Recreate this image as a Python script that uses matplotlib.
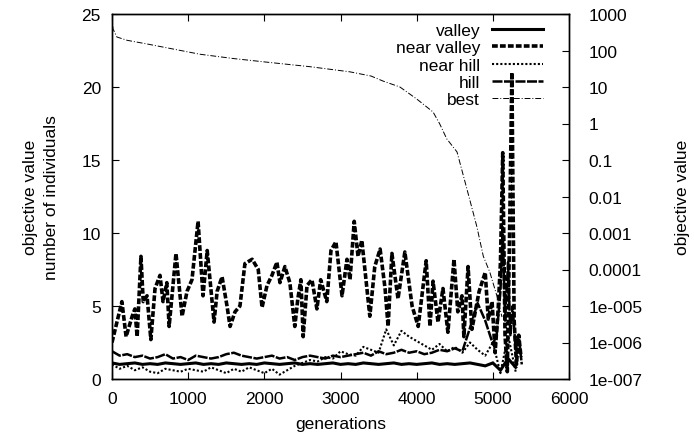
import matplotlib
matplotlib.use("Agg")
import matplotlib.pyplot as plt
from matplotlib.ticker import FixedLocator, FixedFormatter, NullLocator

plt.rcParams['font.family'] = ['Liberation Sans', 'DejaVu Sans']

# ---------------- data ----------------
nv_gen = [0, 65, 130, 185, 265, 300, 330, 380, 410, 460, 510, 565, 630, 670, 720, 750,
          840, 920, 985, 1050, 1130, 1195, 1250, 1340, 1380, 1445, 1510, 1550, 1615, 1680,
          1745, 1840, 1920, 1970, 2035, 2100, 2165, 2205, 2270, 2335, 2400, 2440, 2480,
          2510, 2560, 2625, 2690, 2740, 2820, 2875, 2940, 3020, 3085, 3125, 3180, 3230,
          3280, 3385, 3450, 3520, 3585, 3625, 3675, 3755, 3845, 3940, 4020, 4125, 4175,
          4215, 4280, 4345, 4410, 4490, 4540, 4595, 4620, 4675, 4725, 4820, 4900, 4940,
          4990, 5030, 5070, 5100, 5130, 5160, 5190, 5220, 5250, 5280, 5310, 5340, 5370]
near_valley = [2.5, 3.9, 5.3, 2.9, 4.3, 4.8, 2.9, 8.4, 5.3, 5.7, 2.7, 6.2, 7.1, 5.3, 6.6, 3.6,
               8.6, 4.3, 6.0, 6.8, 10.8, 5.7, 8.8, 3.9, 6.0, 7.0, 5.0, 3.6, 4.6, 5.0,
               7.9, 8.2, 7.5, 4.9, 6.4, 7.1, 8.0, 6.6, 7.7, 6.6, 3.6, 5.5, 6.8,
               2.9, 6.4, 6.8, 4.8, 6.8, 5.3, 8.8, 9.4, 5.7, 8.2, 6.8, 10.8, 8.4,
               9.5, 4.3, 7.7, 8.9, 6.2, 3.6, 8.6, 5.5, 8.7, 5.0, 3.6, 8.1, 3.6,
               6.7, 3.9, 6.2, 3.2, 8.2, 4.6, 5.7, 2.9, 7.7, 3.4, 6.0, 7.3, 4.1,
               5.3, 1.8, 4.8, 8.0, 15.5, 3.0, 0.5, 10.0, 21.0, 4.0, 1.0, 3.0, 1.5]

grid_gen = list(range(0, 5400, 100))
valley = [1.1, 1.0, 1.05, 1.1, 1.0, 1.05, 1.0, 1.1, 1.05, 1.0, 1.05, 1.1, 1.0, 1.05,
          1.0, 1.1, 1.05, 1.0, 1.05, 1.0, 1.1, 1.05, 1.0, 1.05, 1.1, 1.0, 1.05, 1.0,
          1.05, 1.1, 1.0, 1.05, 1.0, 1.1, 1.05, 1.0, 1.05, 1.1, 1.0, 1.05, 1.0, 1.05,
          1.1, 1.0, 1.05, 1.0, 1.05, 1.1, 1.0, 0.9, 1.1, 0.6, 1.4, 0.8]
near_hill = [1.0, 0.7, 0.9, 0.6, 0.8, 0.5, 0.4, 0.7, 0.6, 0.5, 0.7, 0.6, 0.5, 0.8,
             0.6, 0.4, 0.7, 0.5, 0.8, 0.6, 0.4, 0.7, 0.3, 0.6, 0.9, 1.1, 1.3, 1.2,
             1.5, 1.4, 1.9, 1.7, 1.6, 2.2, 2.0, 1.8, 3.4, 2.3, 3.3, 2.9, 2.6, 2.3,
             2.0, 2.4, 1.9, 2.2, 1.8, 2.5, 2.0, 1.6, 2.5, 0.4, 3.0, 0.5]

hill_gen = list(range(0, 5000, 100)) + [5000, 5050, 5100, 5130, 5160, 5200, 5230, 5260, 5300, 5340, 5380]
hill = [1.9, 1.6, 1.7, 1.5, 1.6, 1.4, 1.5, 1.7, 1.4, 1.5, 1.3, 1.6, 1.5, 1.4, 1.5, 1.7,
        1.8, 1.6, 1.5, 1.4, 1.5, 1.6, 1.4, 1.5, 1.3, 1.5, 1.6, 1.5, 1.4, 1.6, 1.5, 1.6,
        1.7, 1.8, 1.6, 1.9, 1.7, 1.8, 2.0, 1.8, 1.9, 1.7, 1.8, 2.0, 1.9, 2.1, 1.9, 3.5,
        5.2, 4.0,
        2.4, 3.0, 6.0, 10.4, 4.0, 8.0, 3.0, 5.0, 2.0, 3.0, 1.0]

best_gen = [0, 13, 65, 200, 460, 800, 1155, 1600, 2030, 2600, 3125, 3400, 3560, 3780,
            4000, 4215, 4300, 4395, 4530, 4660, 4790, 4875, 4960, 5050, 5120]
best = [900, 390, 234, 190, 151, 110, 79, 60, 48, 36, 26, 20, 14.5, 10, 4.7, 2.07, 1.0,
        0.38, 0.166, 0.016, 0.0015, 2.3e-4, 8.5e-5, 2.0e-5, 5e-6]

x_ticks = [0, 1000, 2000, 3000, 4000, 5000, 6000]
y_ticks = [0, 5, 10, 15, 20, 25]
r_ticks = [1e3, 1e2, 1e1, 1, 1e-1, 1e-2, 1e-3, 1e-4, 1e-5, 1e-6, 1e-7]
r_labels = ["1000", "100", "10", "1", "0.1", "0.01", "0.001", "0.0001",
            "1e-005", "1e-006", "1e-007"]

# ---------------- figure ----------------
fig = plt.figure(figsize=(6.94, 4.39), dpi=100)
ax = fig.add_axes([112 / 694, 1 - 380 / 439, (569 - 112) / 694, (380 - 15) / 439])
ax2 = ax.twinx()

fs = 12.5
l_v, = ax.plot(grid_gen, valley, color='black', lw=2.2, solid_joinstyle='miter')
l_nv, = ax.plot(nv_gen, near_valley, color='black', lw=2.6, linestyle=(0, (1.6, 0.6)))
l_nh, = ax.plot(grid_gen, near_hill, color='black', lw=1.5, linestyle=(0, (1.0, 1.0)))
l_h, = ax.plot(hill_gen, hill, color='black', lw=1.8, linestyle=(0, (4.0, 0.6)))
l_b, = ax2.plot(best_gen, best, color='black', lw=0.7, linestyle=(0, (6, 2, 1, 2)))

ax.set_xlim(0, 6000)
ax.set_ylim(0, 25)
ax.set_xticks(x_ticks)
ax.set_yticks(y_ticks)
ax.tick_params(axis='both', direction='in', length=5, width=0.8, labelsize=fs)
ax.tick_params(axis='x', top=True, pad=9)
ax.tick_params(axis='y', pad=8)
ax.set_xlabel("generations", fontsize=fs, labelpad=7)
ax.set_ylabel("objective value\nnumber of individuals", fontsize=fs, labelpad=16,
              linespacing=1.5)

ax2.set_yscale('log')
ax2.set_ylim(1e-7, 1e3)
ax2.yaxis.set_major_locator(FixedLocator(r_ticks))
ax2.yaxis.set_major_formatter(FixedFormatter(r_labels))
ax2.yaxis.set_minor_locator(NullLocator())
ax2.tick_params(axis='y', direction='in', length=5, width=0.8, labelsize=fs, pad=14)
ax2.set_ylabel("objective value", fontsize=fs, labelpad=23)

for a in (ax, ax2):
    for s in a.spines.values():
        s.set_linewidth(1.0)

leg = ax2.legend([l_v, l_nv, l_nh, l_h, l_b],
                 ["valley", "near valley", "near hill", "hill", "best"],
                 loc='upper right', bbox_to_anchor=(0.965, 1.004), frameon=False,
                 markerfirst=False, fontsize=fs, handlelength=2.9, handletextpad=0.7,
                 labelspacing=0.12, borderaxespad=0.2)

fig.savefig("out.png", dpi=100)
